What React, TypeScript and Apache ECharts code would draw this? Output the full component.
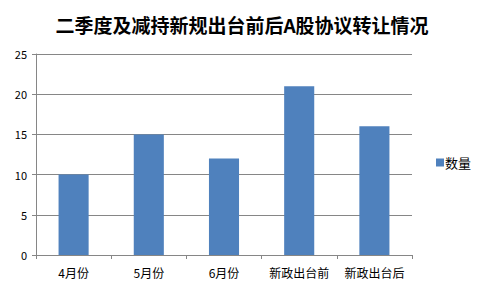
import React, { useEffect, useRef } from "react";
import * as echarts from "echarts";

const categories = ["4月份", "5月份", "6月份", "新政出台前", "新政出台后"];
const values = [10, 15, 12, 21, 16];
const seriesName = "数量";
const titleText = "二季度及减持新规出台前后A股协议转让情况";

export default function App() {
  const ref = useRef<HTMLDivElement>(null);
  useEffect(() => {
    const chart = echarts.init(ref.current!, null, { renderer: "svg" });
    const font = "'Noto Sans CJK SC', 'DejaVu Sans', sans-serif";
    chart.setOption({
      animation: false,
      backgroundColor: "#ffffff",
      title: {
        text: titleText,
        left: "center",
        top: 10,
        textStyle: { fontFamily: font, fontSize: 19, fontWeight: "bold", color: "#000" },
      },
      legend: {
        data: [seriesName],
        orient: "vertical",
        left: 431,
        top: 151,
        itemWidth: 8,
        itemHeight: 8,
        itemGap: 5,
        icon: "rect",
        textStyle: { fontFamily: font, fontSize: 13, color: "#000", padding: [0, 0, 0, -4] },
      },
      grid: { left: 36, right: 72, top: 54, bottom: 37 },
      xAxis: {
        type: "category",
        data: categories,
        axisLine: { lineStyle: { color: "#868686", width: 1 } },
        axisTick: { show: true, length: 4, interval: 0, lineStyle: { color: "#868686" } },
        axisLabel: { fontFamily: font, fontSize: 12, color: "#000", margin: 11, interval: 0 },
      },
      yAxis: {
        type: "value",
        min: 0,
        max: 25,
        interval: 5,
        axisLine: { show: true, lineStyle: { color: "#868686" } },
        axisTick: { show: true, length: 4, lineStyle: { color: "#868686" } },
        axisLabel: { fontFamily: font, fontSize: 11, color: "#000", margin: 9 },
        splitLine: { lineStyle: { color: "#868686" } },
      },
      series: [
        {
          name: seriesName,
          type: "bar",
          data: values,
          barWidth: "40%",
          itemStyle: { color: "#4F81BD" },
        },
      ],
    });
    return () => chart.dispose();
  }, []);
  return <div ref={ref} style={{ width: 484, height: 292, position: "absolute", left: 0, top: 0 }} />;
}
